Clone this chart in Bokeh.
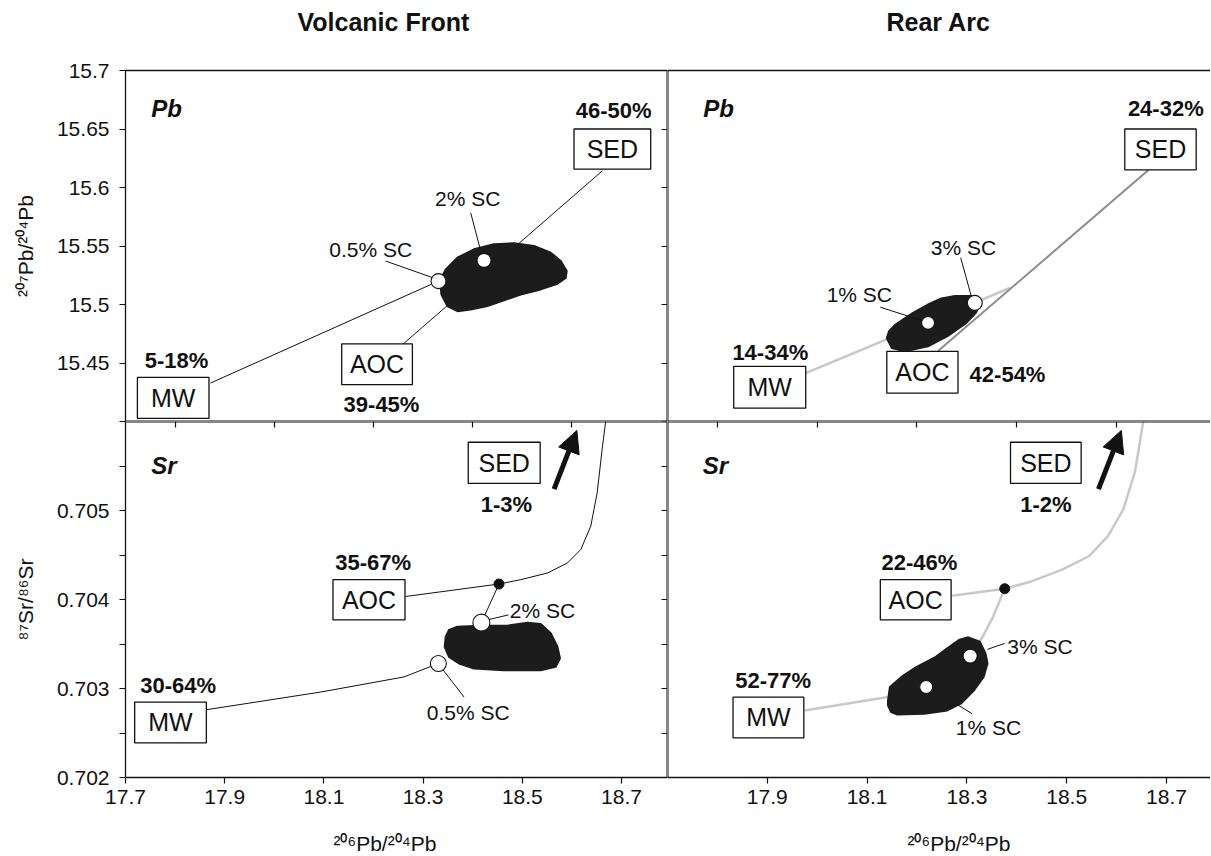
from bokeh.plotting import figure
from bokeh.models import (LinearAxis, FixedTicker, Range1d, Arrow, NormalHead,
                          CustomJSTickFormatter, Title)
from bokeh.layouts import column, row
from bokeh.core.properties import value
from bokeh.embed import file_html
from bokeh.resources import INLINE

FONT = "Liberation Sans"
INK = "#111111"
LIGHT = "#c8c8c8"
MID = "#8c8c8c"
BLOB = "#1c1c1c"

# ---------------- axes / ticks ----------------
X_LEFT_RANGE = (17.7, 18.7927)
X_RIGHT_RANGE = (17.7, 18.7882)
PB_RANGE = (15.4, 15.7)
SR_RANGE = (0.702, 0.706)

PB_Y_TICKS = [15.4, 15.45, 15.5, 15.55, 15.6, 15.65, 15.7]
PB_Y_LABELS = ["", "15.45", "15.5", "15.55", "15.6", "15.65", "15.7"]
SR_Y_TICKS = [0.702, 0.7025, 0.703, 0.7035, 0.704, 0.7045, 0.705, 0.7055, 0.706]
SR_Y_LABELS = ["0.702", "", "0.703", "", "0.704", "", "0.705", "", ""]
X_TICKS_LEFT = [17.7, 17.9, 18.1, 18.3, 18.5, 18.7]
X_LABELS_LEFT = ["17.7", "17.9", "18.1", "18.3", "18.5", "18.7"]
X_TICKS_RIGHT = [17.9, 18.1, 18.3, 18.5, 18.7]
X_LABELS_RIGHT = ["17.9", "18.1", "18.3", "18.5", "18.7"]
X_MID_TICKS = [17.8, 18.0, 18.2, 18.4, 18.6]
SPACER_TICK = [18.0]   # invisible tick used only to reserve room

TITLES = ["Volcanic Front", "Rear Arc"]
PB_AXIS_LABEL = "²⁰⁷Pb/²⁰⁴Pb"
SR_AXIS_LABEL = "⁸⁷Sr/⁸⁶Sr"
X_AXIS_LABEL = "²⁰⁶Pb/²⁰⁴Pb"

# ---------------- Volcanic Front, Pb ----------------
vf_pb_tag = ["Pb"]; vf_pb_tag_x = [17.783]; vf_pb_tag_y = [15.6679]
vf_pb_pct = ["46-50%", "5-18%", "39-45%"]
vf_pb_pct_x = [18.6843, 17.8028, 18.2161]
vf_pb_pct_y = [15.6657, 15.4523, 15.4143]
vf_pb_box = ["SED", "AOC", "MW"]
vf_pb_box_x = [18.6815, 18.207, 17.7962]
vf_pb_box_y = [15.6329, 15.4489, 15.4201]
vf_pb_box_l = [18.6042, 18.1359, 17.724]
vf_pb_box_r = [18.7589, 18.2784, 17.8683]
vf_pb_box_t = [15.65, 15.4663, 15.4377]
vf_pb_box_b = [15.6157, 15.4315, 15.4026]
vf_pb_sc = ["0.5% SC", "2% SC"]
vf_pb_sc_x = [18.1944, 18.3899]
vf_pb_sc_y = [15.5474, 15.5903]
vf_pb_lead_x0 = [18.2246, 18.396]
vf_pb_lead_y0 = [15.5371, 15.5783]
vf_pb_lead_x1 = [18.3214, 18.4145]
vf_pb_lead_y1 = [15.5226, 15.5483]
vf_pb_pt_x = [18.331, 18.4228]
vf_pb_pt_y = [15.520, 15.5377]
vf_pb_pt_size = [15, 14]
vf_pb_mw_x = [17.8716, 18.331]
vf_pb_mw_y = [15.4329, 15.520]
vf_pb_sed_x = [18.6615, 18.2583]
vf_pb_sed_y = [15.6143, 15.4657]
vf_pb_blob_x = [18.396, 18.4296, 18.4631, 18.4968, 18.5371, 18.5708, 18.5875, 18.5895,
                18.5774, 18.5573, 18.5236, 18.4833, 18.4429, 18.4026, 18.3692, 18.3456,
                18.3341, 18.3369, 18.349, 18.3692]
vf_pb_blob_y = [15.4957, 15.4986, 15.5035, 15.5086, 15.5129, 15.5177, 15.5228, 15.5286,
                15.5371, 15.5443, 15.55, 15.5523, 15.5515, 15.5472, 15.54, 15.53,
                15.52, 15.5086, 15.4986, 15.4943]

# ---------------- Rear Arc, Pb ----------------
ra_pb_tag = ["Pb"]; ra_pb_tag_x = [17.8022]; ra_pb_tag_y = [15.6679]
ra_pb_pct = ["24-32%", "14-34%", "42-54%"]
ra_pb_pct_x = [18.6986, 17.906, 18.3814]
ra_pb_pct_y = [15.6674, 15.4593, 15.44]
ra_pb_box = ["SED", "AOC", "MW"]
ra_pb_box_x = [18.688, 18.2108, 17.9048]
ra_pb_box_y = [15.6326, 15.4422, 15.4293]
ra_pb_box_l = [18.6164, 18.1395, 17.8327]
ra_pb_box_r = [18.7595, 18.2822, 17.977]
ra_pb_box_t = [15.65, 15.46, 15.4472]
ra_pb_box_b = [15.6151, 15.4243, 15.4114]
ra_pb_sc = ["1% SC", "3% SC"]
ra_pb_sc_x = [18.0844, 18.2932]
ra_pb_sc_y = [15.5086, 15.5485]
ra_pb_lead_x0 = [18.1265, 18.2876]
ra_pb_lead_y0 = [15.4977, 15.54]
ra_pb_lead_x1 = [18.2184, 18.3106]
ra_pb_lead_y1 = [15.4851, 15.5043]
ra_pb_pt_x = [18.2222, 18.3158]
ra_pb_pt_y = [15.4843, 15.5014]
ra_pb_pt_size = [13, 15]
ra_pb_mw_x = [17.977, 18.387]
ra_pb_mw_y = [15.4414, 15.5143]
ra_pb_sed_x = [18.6645, 18.2415]
ra_pb_sed_y = [15.6151, 15.46]
ra_pb_blob_x = [18.1395, 18.1495, 18.176, 18.222, 18.261, 18.299, 18.318, 18.326,
                18.322, 18.307, 18.276, 18.249, 18.222, 18.192, 18.157, 18.144]
ra_pb_blob_y = [15.4714, 15.4628, 15.460, 15.4643, 15.4729, 15.4843, 15.4928, 15.500,
                15.5052, 15.5072, 15.5072, 15.5052, 15.500, 15.4928, 15.4829, 15.4771]

# ---------------- Volcanic Front, Sr ----------------
vf_sr_tag = ["Sr"]; vf_sr_tag_x = [17.7776]; vf_sr_tag_y = [0.705503]
vf_sr_pct = ["1-3%", "35-67%", "30-64%"]
vf_sr_pct_x = [18.4681, 18.1994, 17.8063]
vf_sr_pct_y = [0.70507, 0.704411, 0.703036]
vf_sr_box = ["SED", "AOC", "MW"]
vf_sr_box_x = [18.4635, 18.1909, 17.7907]
vf_sr_box_y = [0.705536, 0.703997, 0.702618]
vf_sr_box_l = [18.391, 18.1183, 17.7185]
vf_sr_box_r = [18.536, 18.2635, 17.863]
vf_sr_box_t = [0.705767, 0.704223, 0.702847]
vf_sr_box_b = [0.705304, 0.703771, 0.702389]
vf_sr_sc = ["2% SC", "0.5% SC"]
vf_sr_sc_x = [18.5405, 18.3909]
vf_sr_sc_y = [0.703875, 0.702734]
vf_sr_lead_x0 = [18.472, 18.3825]
vf_sr_lead_y0 = [0.703827, 0.702904]
vf_sr_lead_x1 = [18.4296, 18.3355]
vf_sr_lead_y1 = [0.703771, 0.703243]
vf_sr_pt_x = [18.4175, 18.3308]
vf_sr_pt_y = [0.70374, 0.703281]
vf_sr_pt_size = [17, 16]
vf_sr_dot_x = [18.453]; vf_sr_dot_y = [0.704174]
vf_sr_aoc_x = [18.265, 18.453, 18.497, 18.551, 18.591, 18.618, 18.638, 18.651, 18.661, 18.668, 18.672]
vf_sr_aoc_y = [0.704034, 0.704174, 0.704223, 0.704298, 0.704411, 0.704562, 0.704825,
               0.705202, 0.705692, 0.706, 0.7062]
vf_sr_stem_x = [18.453, 18.4175]
vf_sr_stem_y = [0.704174, 0.70374]
vf_sr_mw_x = [17.8637, 18.0935, 18.2615, 18.3308]
vf_sr_mw_y = [0.702762, 0.70296, 0.70313, 0.703281]
vf_sr_arrow = [18.564, 0.70524, 18.610, 0.70590]
vf_sr_blob_x = [18.3456, 18.3522, 18.3692, 18.4161, 18.470, 18.5103, 18.5371, 18.5573, 18.5708,
                18.576, 18.5673, 18.5371, 18.4631, 18.4026, 18.3724, 18.3522, 18.3435]
vf_sr_blob_y = [0.703582, 0.703658, 0.703695, 0.703706, 0.703706, 0.703740, 0.703725, 0.703620,
                0.703469, 0.703338, 0.703243, 0.703206, 0.703206, 0.703225, 0.703281, 0.703356,
                0.703469]

# ---------------- Rear Arc, Sr ----------------
ra_sr_tag = ["Sr"]; ra_sr_tag_x = [17.7962]; ra_sr_tag_y = [0.705503]
ra_sr_pct = ["1-2%", "22-46%", "52-77%"]
ra_sr_pct_x = [18.4583, 18.205, 17.9116]
ra_sr_pct_y = [0.70507, 0.704411, 0.703093]
ra_sr_box = ["SED", "AOC", "MW"]
ra_sr_box_x = [18.4583, 18.1974, 17.9022]
ra_sr_box_y = [0.705536, 0.703997, 0.702675]
ra_sr_box_l = [18.3874, 18.1265, 17.8313]
ra_sr_box_r = [18.529, 18.2684, 17.9732]
ra_sr_box_t = [0.705767, 0.704223, 0.702904]
ra_sr_box_b = [0.705304, 0.703771, 0.702445]
ra_sr_sc = ["3% SC", "1% SC"]
ra_sr_sc_x = [18.4465, 18.3433]
ra_sr_sc_y = [0.703469, 0.702565]
ra_sr_lead_x0 = [18.3758, 18.3106]
ra_sr_lead_y0 = [0.703507, 0.702716]
ra_sr_lead_x1 = [18.3413, 18.28]
ra_sr_lead_y1 = [0.70344, 0.702821]
ra_sr_pt_x = [18.3066, 18.2184]
ra_sr_pt_y = [0.703364, 0.703017]
ra_sr_pt_size = [14, 13]
ra_sr_dot_x = [18.3758]; ra_sr_dot_y = [0.704121]
ra_sr_aoc_x = [18.2705, 18.3758, 18.4295, 18.4908, 18.5445, 18.5828, 18.6134, 18.6365,
               18.6479, 18.6533, 18.655]
ra_sr_aoc_y = [0.704042, 0.704121, 0.704203, 0.704336, 0.704486, 0.704712, 0.705014,
               0.705428, 0.705805, 0.706, 0.7062]
ra_sr_stem_x = [18.3758, 18.3527, 18.3297, 18.3066]
ra_sr_stem_y = [0.704121, 0.703808, 0.703564, 0.703364]
ra_sr_mw_x = [17.9753, 18.1419, 18.2184]
ra_sr_mw_y = [0.702754, 0.702904, 0.703017]
ra_sr_arrow = [18.5637, 0.70524, 18.6096, 0.7059]
ra_sr_blob_x = [18.1419, 18.1457, 18.1687, 18.1994, 18.2377, 18.2607, 18.2838, 18.3028,
                18.3259, 18.3373, 18.3413, 18.3335, 18.3144, 18.2876, 18.2607, 18.2146,
                18.1609, 18.1479, 18.1419]
ra_sr_blob_y = [0.702867, 0.703017, 0.703130, 0.703243, 0.703356, 0.703451, 0.703545,
                0.703575, 0.703525, 0.703394, 0.703281, 0.703130, 0.702980, 0.702829,
                0.702754, 0.702716, 0.702708, 0.702734, 0.702810]


# ---------------- helpers ----------------
def make_fig(w, h, xr, yr, left, right, top, bottom):
    return figure(width=w, height=h, x_range=Range1d(*xr), y_range=Range1d(*yr),
                  x_axis_type=None, y_axis_type=None, toolbar_location=None,
                  output_backend="svg", min_border_left=left, min_border_right=right,
                  min_border_top=top, min_border_bottom=bottom,
                  outline_line_color=None, background_fill_color="white",
                  border_fill_color="white")


def add_axis(p, side, ticks, labels=None, tin=0, tout=0, label=None, fixed=None,
             label_standoff=10, tick_standoff=10, lw=1.3, tick_color=INK,
             line_color=INK, label_size="21px"):
    if labels is None:
        fmt = CustomJSTickFormatter(code="return '';")
    else:
        fmt = CustomJSTickFormatter(args=dict(tv=ticks, tl=labels), code="""
            for (let i = 0; i < tv.length; i++) {
                if (Math.abs(tv[i] - tick) < 1e-9) { return tl[i]; }
            }
            return '';""")
    ax = LinearAxis(ticker=FixedTicker(ticks=ticks, minor_ticks=[]), formatter=fmt,
                    fixed_location=fixed, major_tick_in=tin, major_tick_out=tout,
                    minor_tick_in=0, minor_tick_out=0,
                    axis_line_color=line_color, axis_line_width=lw,
                    major_tick_line_color=tick_color, major_tick_line_width=1.2,
                    major_label_text_font=FONT, major_label_text_font_size=label_size,
                    major_label_text_color=INK, major_label_standoff=tick_standoff)
    if label:
        ax.axis_label = label
        ax.axis_label_text_font = FONT
        ax.axis_label_text_font_size = "21px"
        ax.axis_label_text_font_style = "normal"
        ax.axis_label_text_color = INK
        ax.axis_label_standoff = label_standoff
    p.add_layout(ax, side)
    return ax


def spacer(p, side, room):
    # an axis whose only tick is invisible: it just reserves `room` pixels
    add_axis(p, side, SPACER_TICK, tout=room, tick_color=None, line_color=None,
             tick_standoff=0, label_size="1px")


def texts(p, x, y, t, size, style="normal"):
    p.text(x=x, y=y, text=t, text_font=value(FONT), text_font_size=size,
           text_font_style=style, text_align="center", text_baseline="middle",
           text_color=INK)


def panel_common(p, tag, tag_x, tag_y, pct, pct_x, pct_y, box, box_x, box_y,
                 bl, br, bt, bb, sc, sc_x, sc_y, lx0, ly0, lx1, ly1,
                 ptx, pty, pts, blob_x, blob_y, dot=None):
    p.patch(blob_x, blob_y, fill_color=BLOB, line_color=BLOB, line_width=2,
            line_join="round")
    p.segment(x0=lx0, y0=ly0, x1=lx1, y1=ly1, line_color=INK, line_width=1)
    if dot is not None:
        p.scatter(dot[0], dot[1], size=10, marker="circle", fill_color=INK, line_color=INK)
    p.scatter(ptx, pty, size=pts, marker="circle", fill_color="white",
              line_color=INK, line_width=1.1)
    p.quad(left=bl, right=br, top=bt, bottom=bb, fill_color="white",
           line_color=INK, line_width=1.3)
    texts(p, box_x, box_y, box, "25px")
    texts(p, pct_x, pct_y, pct, "22px", "bold")
    texts(p, sc_x, sc_y, sc, "21px")
    texts(p, tag_x, tag_y, tag, "24px", "bold italic")


# ---------------- figures ----------------
W_L, W_R = 667, 543
H_T, H_B = 421, 435
BORDER_L, BORDER_T, BORDER_B = 125, 70, 79

tl = make_fig(W_L, H_T, X_LEFT_RANGE, PB_RANGE, BORDER_L, 0, BORDER_T, 0)
tr = make_fig(W_R, H_T, X_RIGHT_RANGE, PB_RANGE, 0, 0, BORDER_T, 0)
bl = make_fig(W_L, H_B, X_LEFT_RANGE, SR_RANGE, BORDER_L, 0, 0, BORDER_B)
br = make_fig(W_R, H_B, X_RIGHT_RANGE, SR_RANGE, 0, 0, 0, BORDER_B)

# Top-left axes
add_axis(tl, "left", PB_Y_TICKS, PB_Y_LABELS, tout=6,
         label=PB_AXIS_LABEL, label_standoff=17)
add_axis(tl, "above", [])
spacer(tl, "above", 32)
add_axis(tl, "below", [], fixed=PB_RANGE[0], lw=2)
add_axis(tl, "right", PB_Y_TICKS, tin=6, fixed=X_LEFT_RANGE[1], lw=2)
# Top-right axes
add_axis(tr, "left", [], fixed=X_RIGHT_RANGE[0], lw=2)
add_axis(tr, "above", [])
spacer(tr, "above", 32)
add_axis(tr, "below", [], fixed=PB_RANGE[0], lw=2)
# Bottom-left axes
add_axis(bl, "left", SR_Y_TICKS, SR_Y_LABELS, tout=6,
         label=SR_AXIS_LABEL, label_standoff=17)
add_axis(bl, "above", X_MID_TICKS, tin=6, fixed=SR_RANGE[1], lw=2)
add_axis(bl, "below", X_TICKS_LEFT, X_LABELS_LEFT, tout=6, tick_standoff=6)
spacer(bl, "below", 23)
add_axis(bl, "right", SR_Y_TICKS, tin=6, fixed=X_LEFT_RANGE[1], lw=2)
# Bottom-right axes
add_axis(br, "left", [], fixed=X_RIGHT_RANGE[0], lw=2)
add_axis(br, "above", X_MID_TICKS, tin=6, fixed=SR_RANGE[1], lw=2)
add_axis(br, "below", X_TICKS_RIGHT, X_LABELS_RIGHT, tout=6, tick_standoff=6)
spacer(br, "below", 23)

# column titles
for p, t, off in ((tl, TITLES[0], 172), (tr, TITLES[1], 219)):
    p.title = Title(text=t, align="left", offset=off, standoff=6,
                    text_font=FONT, text_font_size="25px", text_font_style="bold",
                    text_color=INK)

# x-axis labels, placed as titles below the tick labels
for p, off in ((bl, 208), (br, 240)):
    p.add_layout(Title(text=X_AXIS_LABEL, align="left", offset=off, standoff=0,
                       text_font=FONT, text_font_size="21px", text_font_style="normal",
                       text_color=INK), "below")

# ---- Top-left: Volcanic Front Pb ----
tl.line(vf_pb_mw_x, vf_pb_mw_y, line_color=INK, line_width=1)
tl.line(vf_pb_sed_x, vf_pb_sed_y, line_color=INK, line_width=1)
panel_common(tl, vf_pb_tag, vf_pb_tag_x, vf_pb_tag_y, vf_pb_pct, vf_pb_pct_x, vf_pb_pct_y,
             vf_pb_box, vf_pb_box_x, vf_pb_box_y, vf_pb_box_l, vf_pb_box_r, vf_pb_box_t,
             vf_pb_box_b, vf_pb_sc, vf_pb_sc_x, vf_pb_sc_y, vf_pb_lead_x0, vf_pb_lead_y0,
             vf_pb_lead_x1, vf_pb_lead_y1, vf_pb_pt_x, vf_pb_pt_y, vf_pb_pt_size,
             vf_pb_blob_x, vf_pb_blob_y)

# ---- Top-right: Rear Arc Pb ----
tr.line(ra_pb_mw_x, ra_pb_mw_y, line_color=LIGHT, line_width=2.5)
tr.line(ra_pb_sed_x, ra_pb_sed_y, line_color=MID, line_width=2)
panel_common(tr, ra_pb_tag, ra_pb_tag_x, ra_pb_tag_y, ra_pb_pct, ra_pb_pct_x, ra_pb_pct_y,
             ra_pb_box, ra_pb_box_x, ra_pb_box_y, ra_pb_box_l, ra_pb_box_r, ra_pb_box_t,
             ra_pb_box_b, ra_pb_sc, ra_pb_sc_x, ra_pb_sc_y, ra_pb_lead_x0, ra_pb_lead_y0,
             ra_pb_lead_x1, ra_pb_lead_y1, ra_pb_pt_x, ra_pb_pt_y, ra_pb_pt_size,
             ra_pb_blob_x, ra_pb_blob_y)

# ---- Bottom-left: Volcanic Front Sr ----
bl.line(vf_sr_aoc_x, vf_sr_aoc_y, line_color=INK, line_width=1)
bl.line(vf_sr_stem_x, vf_sr_stem_y, line_color=INK, line_width=1)
bl.line(vf_sr_mw_x, vf_sr_mw_y, line_color=INK, line_width=1)
panel_common(bl, vf_sr_tag, vf_sr_tag_x, vf_sr_tag_y, vf_sr_pct, vf_sr_pct_x, vf_sr_pct_y,
             vf_sr_box, vf_sr_box_x, vf_sr_box_y, vf_sr_box_l, vf_sr_box_r, vf_sr_box_t,
             vf_sr_box_b, vf_sr_sc, vf_sr_sc_x, vf_sr_sc_y, vf_sr_lead_x0, vf_sr_lead_y0,
             vf_sr_lead_x1, vf_sr_lead_y1, vf_sr_pt_x, vf_sr_pt_y, vf_sr_pt_size,
             vf_sr_blob_x, vf_sr_blob_y, dot=(vf_sr_dot_x, vf_sr_dot_y))
bl.add_layout(Arrow(end=NormalHead(size=22, fill_color=INK, line_color=INK),
                    x_start=vf_sr_arrow[0], y_start=vf_sr_arrow[1],
                    x_end=vf_sr_arrow[2], y_end=vf_sr_arrow[3],
                    line_width=5, line_color=INK))

# ---- Bottom-right: Rear Arc Sr ----
br.line(ra_sr_aoc_x, ra_sr_aoc_y, line_color=LIGHT, line_width=2.5)
br.line(ra_sr_stem_x, ra_sr_stem_y, line_color=LIGHT, line_width=2.5)
br.line(ra_sr_mw_x, ra_sr_mw_y, line_color=LIGHT, line_width=2.5)
panel_common(br, ra_sr_tag, ra_sr_tag_x, ra_sr_tag_y, ra_sr_pct, ra_sr_pct_x, ra_sr_pct_y,
             ra_sr_box, ra_sr_box_x, ra_sr_box_y, ra_sr_box_l, ra_sr_box_r, ra_sr_box_t,
             ra_sr_box_b, ra_sr_sc, ra_sr_sc_x, ra_sr_sc_y, ra_sr_lead_x0, ra_sr_lead_y0,
             ra_sr_lead_x1, ra_sr_lead_y1, ra_sr_pt_x, ra_sr_pt_y, ra_sr_pt_size,
             ra_sr_blob_x, ra_sr_blob_y, dot=(ra_sr_dot_x, ra_sr_dot_y))
br.add_layout(Arrow(end=NormalHead(size=22, fill_color=INK, line_color=INK),
                    x_start=ra_sr_arrow[0], y_start=ra_sr_arrow[1],
                    x_end=ra_sr_arrow[2], y_end=ra_sr_arrow[3],
                    line_width=5, line_color=INK))

layout = column(row(tl, tr, spacing=0), row(bl, br, spacing=0), spacing=0)
open("out.html", "w").write(file_html(layout, INLINE, "Pb and Sr isotope mixing"))
